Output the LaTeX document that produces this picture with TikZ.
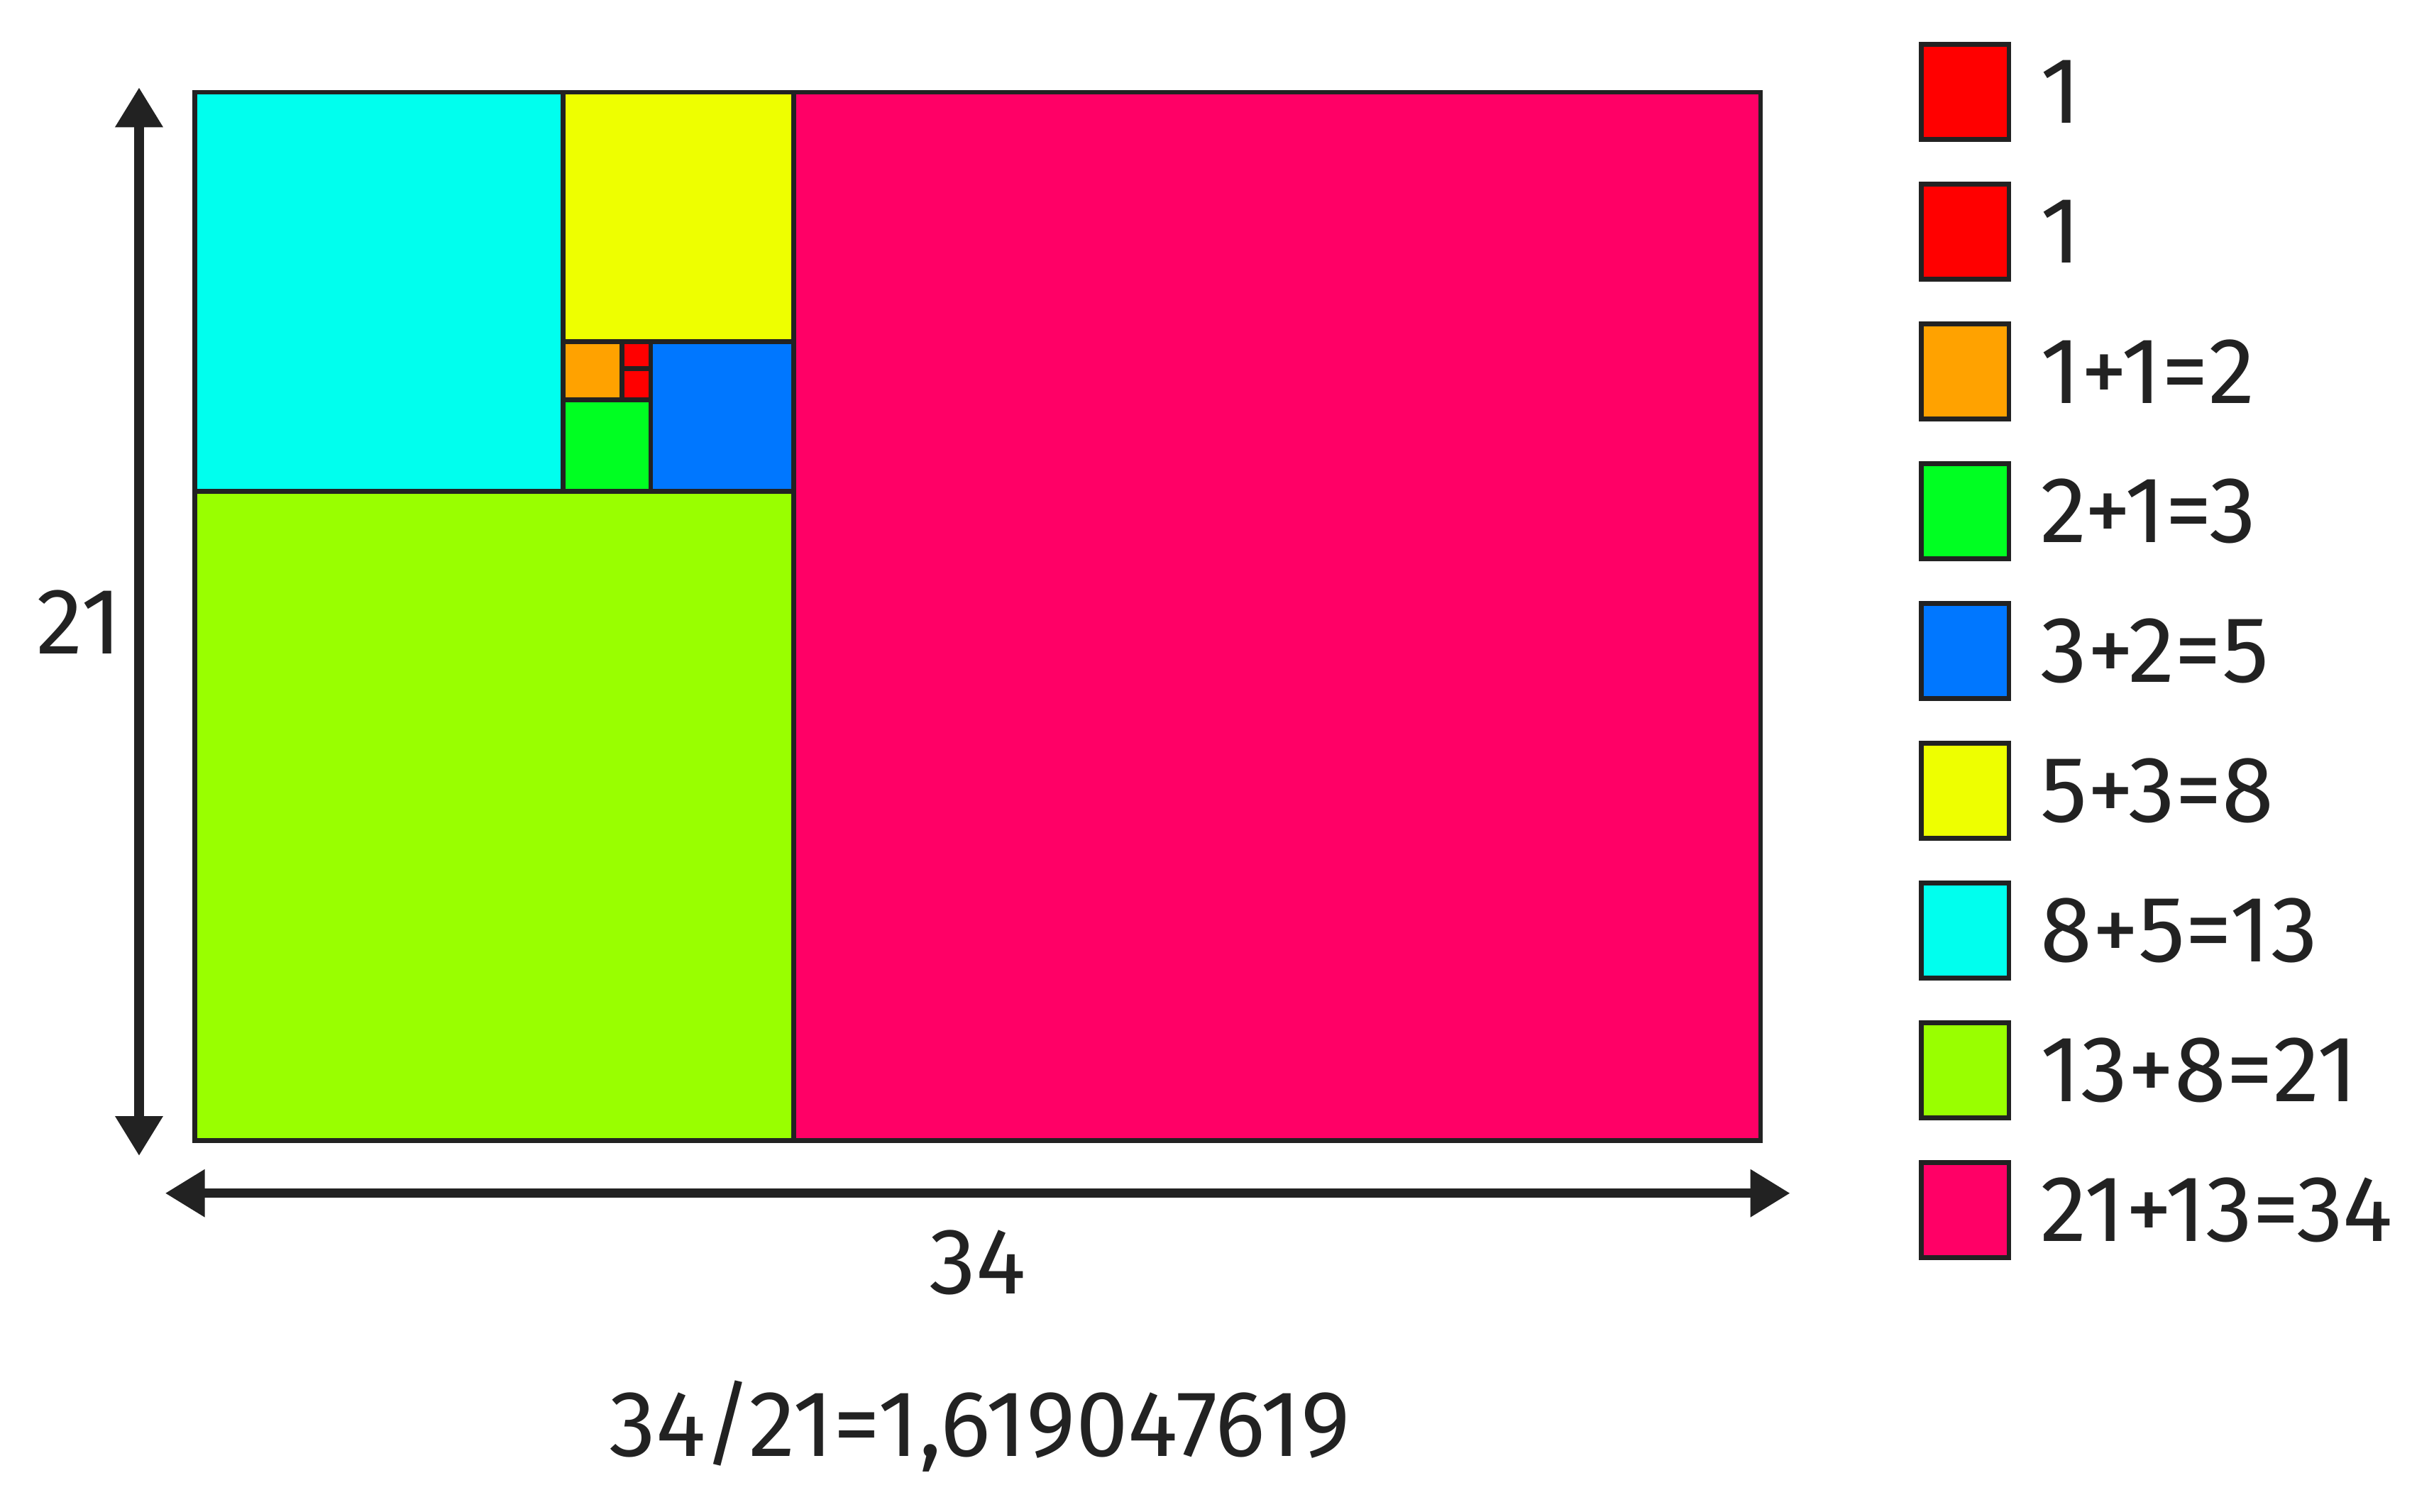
\documentclass[tikz,border=0pt]{standalone}
\usepackage{fontspec}
\setmainfont{Fira Sans}
\usetikzlibrary{arrows.meta, positioning}

\definecolor{edge}{HTML}{222222}
\definecolor{fibred}{HTML}{FF0000}
\definecolor{fiborange}{HTML}{FFA200}
\definecolor{fibgreen}{HTML}{00FF22}
\definecolor{fibblue}{HTML}{0077FF}
\definecolor{fibyellow}{HTML}{EEFF00}
\definecolor{fibcyan}{HTML}{00FFEE}
\definecolor{fiblime}{HTML}{99FF00}
\definecolor{fibpink}{HTML}{FF0066}

\tikzset{
    sq/.style={draw=edge, line width=0.067cm},
    key/.style={sq, minimum width=1.235cm, minimum height=1.34cm, inner sep=0pt, outer sep=0pt},
    num/.style={text=edge, inner sep=0pt, font=\fontsize{37.6pt}{45pt}\selectfont},
    dimarrow/.style={draw=edge, line width=0.133cm, {Triangle[length=0.56cm,width=0.64cm]}-{Triangle[length=0.56cm,width=0.64cm]}}
}

\begin{document}
\begin{tikzpicture}[x=0.649cm, y=0.7036cm]
    \useasboundingbox (-4.2296,-7.440) rectangle (48.621,22.847);

    \draw[sq, fill=fiblime] (0,0) rectangle (13,13);
    \draw[sq, fill=fibpink] (13,0) rectangle (34,21);
    \draw[sq, fill=fibcyan] (0,13) rectangle (8,21);
    \draw[sq, fill=fibyellow] (8,16) rectangle (13,21);
    \draw[sq, fill=fibblue] (9.9,13) rectangle (13,16);
    \draw[sq, fill=fibgreen] (8,13) rectangle (9.9,14.84);
    \draw[sq, fill=fiborange] (8,14.84) rectangle (9.28,16);
    \draw[sq, fill=fibred] (9.28,14.84) rectangle (9.9,15.46);
    \draw[sq, fill=fibred] (9.28,15.46) rectangle (9.9,16);

    \coordinate (htop) at (-1.21,21.095);
    \coordinate (hbot) at (-1.21,-0.306);
    \coordinate (wleft) at (-0.644,-1.055);
    \coordinate (wright) at (34.64,-1.055);
    \draw[dimarrow] (htop) -- node[num, left=0.18cm] (hlbl) {21} (hbot);
    \draw[dimarrow] (wleft) -- node[num, below=0.45cm] (wlbl) {34} (wright);

    \node[num, anchor=base] (ratio) at (17.05,-6.318) {34/21=1,619047619};

    \node[key, fill=fibred] (k1) at (38.44,21.006) {};
    \node[key, fill=fibred, below=0.63cm of k1] (k2) {};
    \node[key, fill=fiborange, below=0.63cm of k2] (k3) {};
    \node[key, fill=fibgreen, below=0.63cm of k3] (k4) {};
    \node[key, fill=fibblue, below=0.63cm of k4] (k5) {};
    \node[key, fill=fibyellow, below=0.63cm of k5] (k6) {};
    \node[key, fill=fibcyan, below=0.63cm of k6] (k7) {};
    \node[key, fill=fiblime, below=0.63cm of k7] (k8) {};
    \node[key, fill=fibpink, below=0.63cm of k8] (k9) {};

    \node[num, right=0.44cm of k1] (t1) {1};
    \node[num, right=0.44cm of k2] (t2) {1};
    \node[num, right=0.44cm of k3] (t3) {1+1=2};
    \node[num, right=0.44cm of k4] (t4) {2+1=3};
    \node[num, right=0.44cm of k5] (t5) {3+2=5};
    \node[num, right=0.44cm of k6] (t6) {5+3=8};
    \node[num, right=0.44cm of k7] (t7) {8+5=13};
    \node[num, right=0.44cm of k8] (t8) {13+8=21};
    \node[num, right=0.44cm of k9] (t9) {21+13=34};
\end{tikzpicture}
\end{document}
